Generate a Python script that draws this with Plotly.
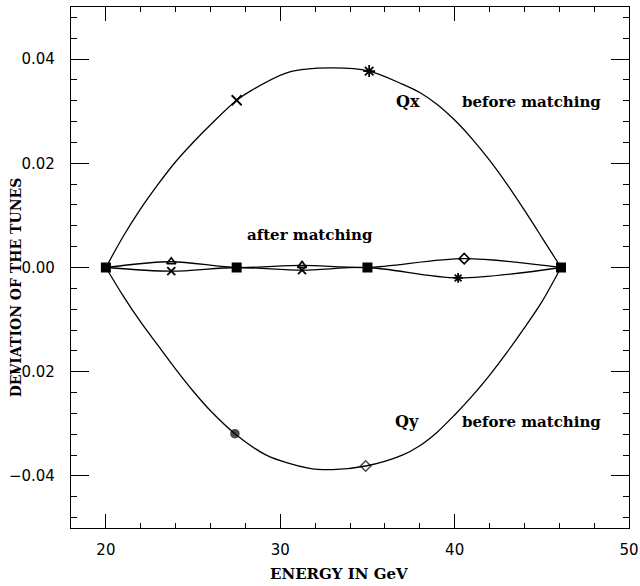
import plotly.graph_objects as go

# ---- data ----
# "before matching" curves
qx_before_x = [20.0, 21.0, 22.0, 23.0, 24.0, 25.0, 26.0, 27.5, 28.4, 30.5, 32.9, 35.1,
               37.0, 38.0, 39.0, 40.0, 41.0, 42.0, 43.0, 44.0, 45.0, 46.1]
qx_before_y = [0.0, 0.0060, 0.0113, 0.0160, 0.0203, 0.0240, 0.0274, 0.0321, 0.0341, 0.0375, 0.0383, 0.0377,
               0.0352, 0.0336, 0.0313, 0.0283, 0.0247, 0.0206, 0.0160, 0.0110, 0.0058, 0.0]
qy_before_x = [20.0, 21.0, 22.0, 23.0, 24.0, 25.0, 26.0, 27.4, 29.2, 31.6, 33.0, 34.9,
               37.0, 38.0, 39.0, 40.0, 41.0, 42.0, 43.0, 44.0, 45.0, 46.1]
qy_before_y = [0.0, -0.0055, -0.0105, -0.0150, -0.0195, -0.0237, -0.0275, -0.0319, -0.0360, -0.0385, -0.0388, -0.0381,
               -0.0360, -0.0342, -0.0316, -0.0283, -0.0247, -0.0207, -0.0163, -0.0116, -0.0066, 0.0]

# marked points on the "before matching" curves
qx_before_mx = [27.5, 35.1]
qx_before_my = [0.0321, 0.0377]
qy_before_mx = [27.4, 34.9]
qy_before_my = [-0.0319, -0.0381]

# "after matching"
qx_after_x = [20.0, 23.75, 27.5, 31.25, 35.0, 40.2, 46.1]
qx_after_y = [0.0, -0.0007, 0.0, -0.0005, 0.0, -0.0020, 0.0]
qy_after_x = [20.0, 23.75, 27.5, 31.25, 35.0, 40.55, 46.1]
qy_after_y = [0.0, 0.0011, 0.0, 0.0004, 0.0, 0.0017, 0.0]

# matched energies (deviation zero)
match_x = [20.0, 27.5, 35.0, 46.1]
match_y = [0.0, 0.0, 0.0, 0.0]

x_ticks = [20, 30, 40, 50]
y_ticks = [-0.04, -0.02, 0.0, 0.02, 0.04]

SERIF = "DejaVu Serif"
SANS = "DejaVu Sans"
LINE = dict(color="black", width=1.3, shape="spline", smoothing=0.9)

fig = go.Figure()
fig.add_trace(go.Scatter(x=qx_before_x, y=qx_before_y, mode="lines", line=LINE))
fig.add_trace(go.Scatter(x=qy_before_x, y=qy_before_y, mode="lines", line=LINE))
fig.add_trace(go.Scatter(x=qx_after_x, y=qx_after_y, mode="lines", line=LINE))
fig.add_trace(go.Scatter(x=qy_after_x, y=qy_after_y, mode="lines", line=LINE))

fig.add_trace(go.Scatter(x=qx_before_mx, y=qx_before_my, mode="markers",
                         marker=dict(symbol=["x-thin-open", "asterisk-open"], size=10,
                                     color="black", line=dict(color="black", width=1.8))))
fig.add_trace(go.Scatter(x=qy_before_mx, y=qy_before_my, mode="markers",
                         marker=dict(symbol=["circle", "diamond-open"], size=[8, 8],
                                     color="black", line=dict(color="black", width=1.6))))
fig.add_trace(go.Scatter(x=qx_after_x[1::2], y=qx_after_y[1::2], mode="markers",
                         marker=dict(symbol=["x-thin-open", "x-thin-open", "asterisk-open"], size=8,
                                     color="black", line=dict(color="black", width=1.8))))
fig.add_trace(go.Scatter(x=qy_after_x[1::2], y=qy_after_y[1::2], mode="markers",
                         marker=dict(symbol=["triangle-up-open", "triangle-up-open", "diamond-open"], size=8,
                                     color="black", line=dict(color="black", width=1.6))))
fig.add_trace(go.Scatter(x=match_x, y=match_y, mode="markers",
                         marker=dict(symbol="square", size=10, color="black")))

txt = dict(family=SERIF, size=15, color="black")
annotations = [
    dict(x=37.33, y=0.0318, text="<b>Qx</b>", showarrow=False, font=dict(family=SERIF, size=16, color="black")),
    dict(x=44.4, y=0.0318, text="<b>before matching</b>", showarrow=False, font=txt),
    dict(x=31.7, y=0.0062, text="<b>after matching</b>", showarrow=False, font=txt),
    dict(x=37.26, y=-0.0296, text="<b>Qy</b>", showarrow=False, font=dict(family=SERIF, size=16, color="black")),
    dict(x=44.4, y=-0.0296, text="<b>before matching</b>", showarrow=False, font=txt),
    dict(xref="paper", yref="paper", x=0.48, y=-0.088, xanchor="center", yanchor="middle",
         text="<b>ENERGY IN GeV</b>",
         showarrow=False, font=dict(family=SERIF, size=15, color="black")),
    dict(xref="paper", yref="paper", x=-0.098, y=0.4626, xanchor="center", yanchor="middle",
         text="<b>DEVIATION OF THE TUNES</b>",
         textangle=-90, showarrow=False, font=dict(family=SERIF, size=14, color="black")),
]

axis_common = dict(showline=True, linecolor="black", linewidth=1.3, mirror="allticks",
                   ticks="inside", tickcolor="black", tickwidth=1.2, showgrid=False,
                   zeroline=False, automargin=False, ticklabeloverflow="allow")

fig.update_layout(
    width=640, height=586,
    margin=dict(l=71, r=11, t=7, b=58, autoexpand=False),
    paper_bgcolor="white", plot_bgcolor="white",
    showlegend=False,
    annotations=annotations,
    xaxis=dict(range=[18, 50], tickvals=x_ticks, ticklen=14,
               tickfont=dict(family=SANS, size=15, color="black"),
               minor=dict(dtick=2, tick0=0, ticks="inside", ticklen=5, tickcolor="black", tickwidth=1.1),
               ticklabelstandoff=8, **axis_common),
    yaxis=dict(range=[-0.05, 0.05], tickvals=y_ticks, tickformat=".2f", ticklen=18,
               tickfont=dict(family=SANS, size=15, color="black"),
               minor=dict(dtick=0.004, tick0=0, ticks="inside", ticklen=6, tickcolor="black", tickwidth=1.1),
               ticklabelstandoff=12, **axis_common),
)

fig.write_html("out.html", config={"displayModeBar": False},
               post_script="document.body.style.margin='0';")
